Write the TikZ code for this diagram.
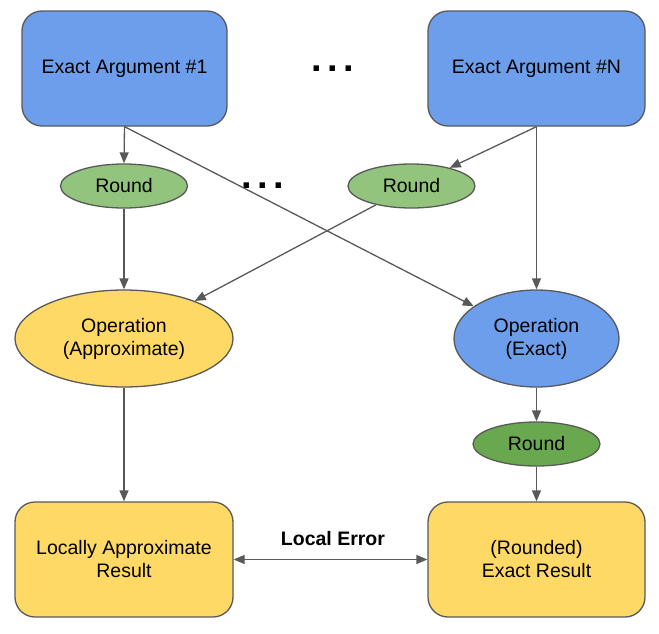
\documentclass[tikz,border=0pt]{standalone}
\usepackage{fontspec}
\setmainfont{Liberation Sans}
\usetikzlibrary{shapes.geometric,arrows.meta}
\definecolor{cblue}{HTML}{6D9EEB}
\definecolor{lgreen}{HTML}{93C47D}
\definecolor{dgreen}{HTML}{6AA84F}
\definecolor{cyellow}{HTML}{FFD966}
\definecolor{cborder}{HTML}{595959}
\newcommand{\mydots}{.\hspace{5.5pt}.\hspace{5.5pt}.}
\tikzset{
  base/.style={draw=cborder, line width=1.3pt, align=center, inner sep=0pt,
    font=\fontsize{19.5}{23}\selectfont},
  boxnode/.style={base, rectangle, rounded corners=20pt},
  ellnode/.style={base, ellipse},
  conn/.style={draw=cborder, line width=1.3pt, -{Triangle[length=11pt,width=9pt]}},
  dots/.style={font=\fontsize{38}{38}\bfseries\selectfont, inner sep=0pt}
}
\begin{document}
\begin{tikzpicture}[x=1pt,y=-1pt]
\useasboundingbox (0,0) rectangle (659,633);
\node[boxnode, fill=cblue, minimum width=205pt, minimum height=115pt] (a1) at (124.5,68.5) {Exact Argument \#1};
\node[boxnode, fill=cblue, minimum width=217pt, minimum height=115pt] (aN) at (536.5,68.5) {Exact Argument \#N};
\node[dots] (d1) at (333,69) {\mydots};
\node[dots] (d2) at (263,186) {\mydots};
\node[ellnode, fill=lgreen, minimum width=127pt, minimum height=44pt] (r1) at (124,186) {Round};
\node[ellnode, fill=lgreen, minimum width=127pt, minimum height=44pt] (rN) at (411.5,186) {Round};
\node[ellnode, fill=cyellow, minimum width=218pt, minimum height=97pt] (opA) at (124,338.5) {Operation\\(Approximate)};
\node[ellnode, fill=cblue, minimum width=165pt, minimum height=97pt] (opE) at (536.5,338.5) {Operation\\(Exact)};
\node[ellnode, fill=dgreen, minimum width=127pt, minimum height=44pt] (r3) at (536.5,444) {Round};
\node[boxnode, fill=cyellow, minimum width=218pt, minimum height=115pt] (resA) at (124,559.5) {Locally Approximate\\Result};
\node[boxnode, fill=cyellow, minimum width=217pt, minimum height=115pt] (resE) at (536.5,559.5) {(Rounded)\\Exact Result};
\node[font=\fontsize{19.5}{23}\bfseries\selectfont, inner sep=0pt] (le) at (333,539) {Local Error};
\draw[conn] (a1.south) -- (r1.north);
\draw[conn] (a1.south) -- (opE);
\draw[conn] (aN.south) -- (rN);
\draw[conn] (aN.south) -- (opE.north);
\draw[conn] (rN) -- (opA);
\draw[conn] (r1.south) -- (opA.north);
\draw[conn] (opA.south) -- (resA.north);
\draw[conn] (opE.south) -- (r3.north);
\draw[conn] (r3.south) -- (resE.north);
\draw[conn, {Triangle[length=11pt,width=9pt]}-{Triangle[length=11pt,width=9pt]}] (resA.east) -- (resE.west);
\end{tikzpicture}
\end{document}
